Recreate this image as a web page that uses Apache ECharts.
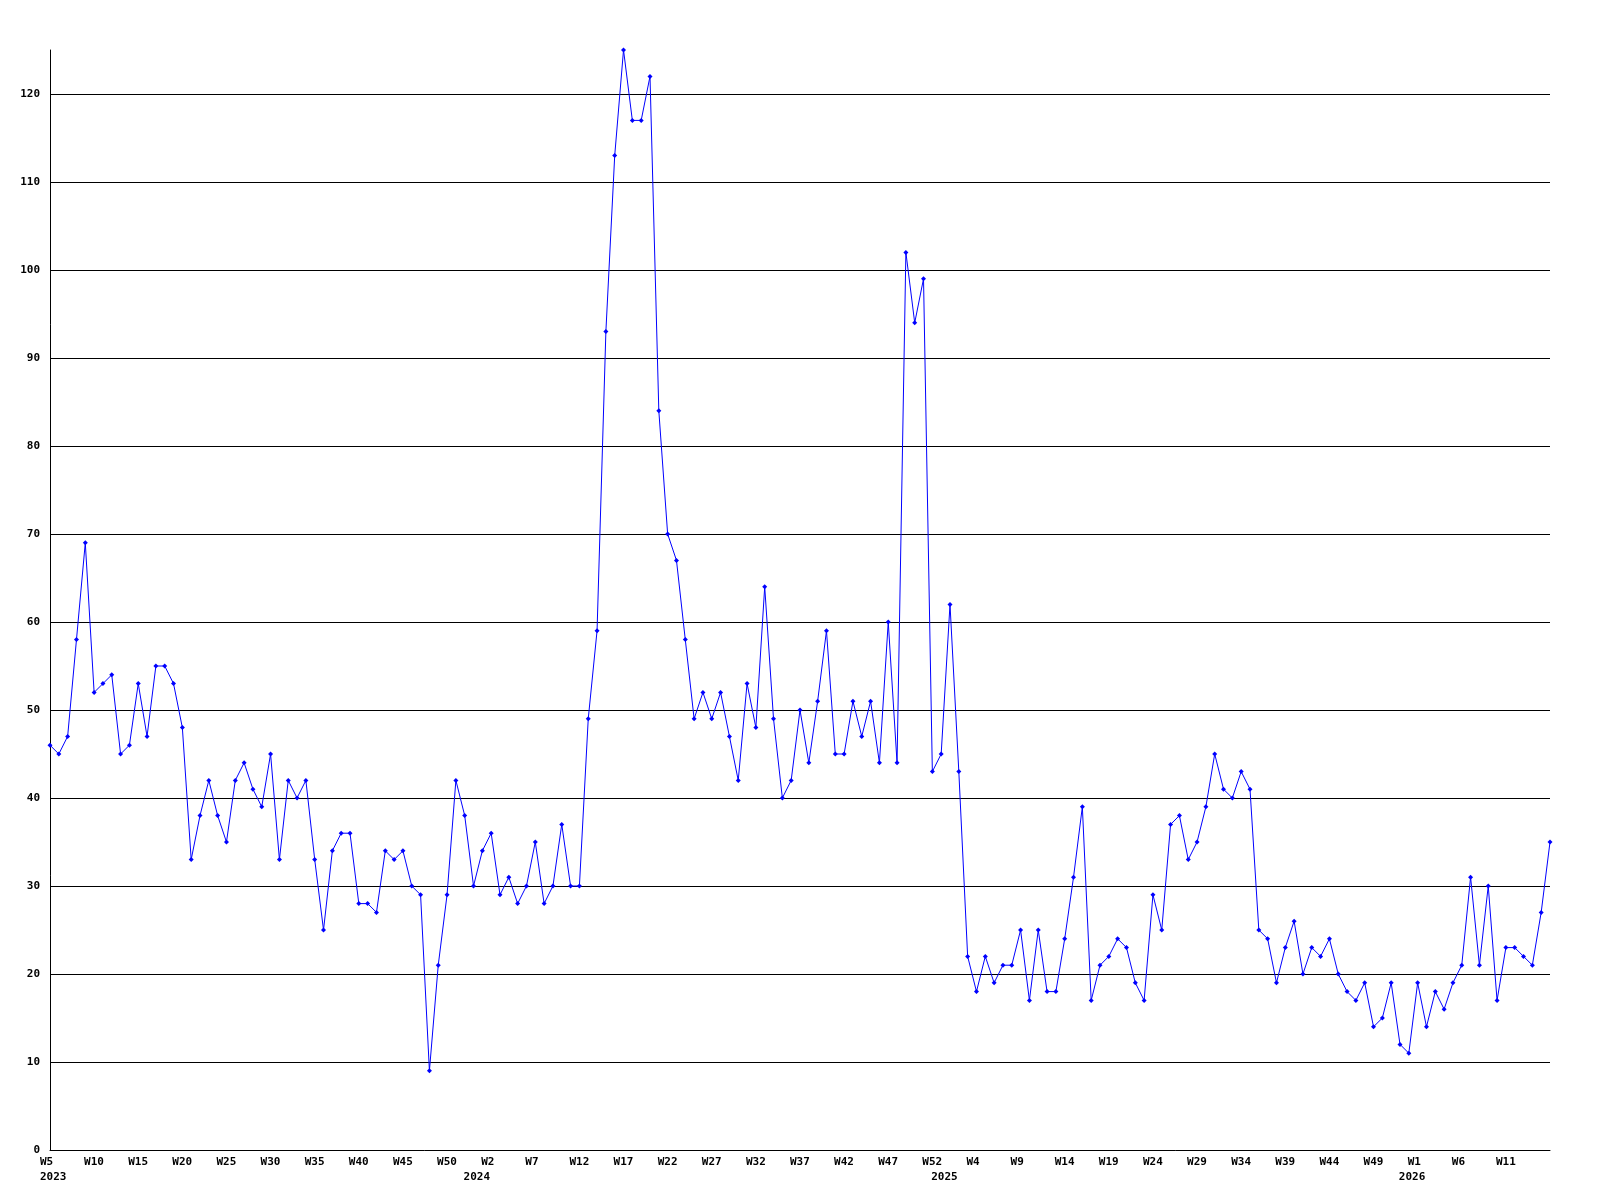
<!DOCTYPE html>
<html>
<head>
<meta charset="utf-8">
<script src="https://cdn.jsdelivr.net/npm/echarts@6/dist/echarts.min.js"></script>
<style>
  html, body { margin: 0; padding: 0; background: #ffffff; }
  #chart { width: 1600px; height: 1200px; }
</style>
</head>
<body>
<div id="chart"></div>
<script>
// Weekly values, 2023 W5 onwards (one per week)
const values = [
  46, 45, 47, 58, 69, 52, 53, 54, 45, 46, 53, 47, 55, 55, 53, 48,
  33, 38, 42, 38, 35, 42, 44, 41, 39, 45, 33, 42, 40, 42, 33, 25,
  34, 36, 36, 28, 28, 27, 34, 33, 34, 30, 29, 9, 21, 29, 42, 38,
  30, 34, 36, 29, 31, 28, 30, 35, 28, 30, 37, 30, 30, 49,
  59, 93, 113, 125, 117, 117, 122, 84, 70, 67, 58, 49,
  52, 49, 52, 47, 42, 53, 48, 64, 49, 40, 42, 50, 44, 51, 59, 45, 45, 51, 47, 51, 44, 60, 44,
  102, 94, 99, 43, 45, 62, 43,
  22, 18, 22, 19, 21, 21, 25, 17, 25, 18, 18, 24, 31, 39, 17, 21, 22, 24, 23, 19,
  17, 29, 25, 37, 38, 33, 35, 39, 45, 41, 40,
  43, 41, 25, 24, 19, 23, 26, 20, 23, 22, 24, 20, 18, 17, 19, 14, 15, 19, 12, 11,
  19, 14, 18, 16, 19, 21, 31, 21, 30, 17, 23, 23, 22, 21, 27, 35
];

// Week tick labels, one every 5 weeks starting with the first week
const tickLabels = [
  'W5', 'W10', 'W15', 'W20', 'W25', 'W30', 'W35', 'W40', 'W45', 'W50',
  'W2', 'W7', 'W12', 'W17', 'W22', 'W27', 'W32', 'W37', 'W42', 'W47',
  'W52', 'W4', 'W9', 'W14', 'W19', 'W24', 'W29', 'W34', 'W39', 'W44',
  'W49', 'W1', 'W6', 'W11'
];
// Year labels and the week index at which each year begins
const yearLabels = ['2023', '2024', '2025', '2026'];
const yearStartWeek = [0, 48, 101, 154];

const tickStep = 5;
const yTickStep = 10;
const yMax = 125;

const seriesData = values.map((v, i) => [i, v]);

const chart = echarts.init(document.getElementById('chart'), null, { renderer: 'canvas' });
const font = 'DejaVu Sans Mono';
const labelRich = {
  t: { width: 20, align: 'left', fontFamily: font, fontWeight: 'bold', fontSize: 11, color: '#000000' }
};

chart.setOption({
  animation: false,
  backgroundColor: '#ffffff',
  grid: { left: 50, right: 50, top: 50, bottom: 50, containLabel: false },
  xAxis: [{
    type: 'value',
    min: 0,
    max: values.length - 1,
    interval: tickStep,
    axisLine: { show: true, lineStyle: { color: '#000000', width: 1 } },
    axisTick: { show: false },
    splitLine: { show: false },
    axisLabel: {
      show: true,
      margin: 7,
      color: '#000000',
      fontFamily: font,
      fontWeight: 'bold',
      fontSize: 11,
      showMinLabel: true,
      showMaxLabel: true,
      hideOverlap: false,
      rich: labelRich,
      formatter: function (v) {
        const k = Math.round(v / tickStep);
        if (k < 0 || k >= tickLabels.length) return '';
        return '{t|' + tickLabels[k] + '}';
      }
    }
  }, {
    type: 'value',
    position: 'bottom',
    min: 0,
    max: values.length - 1,
    axisLine: { show: false },
    axisTick: { show: false },
    splitLine: { show: false },
    axisLabel: {
      show: true,
      margin: 22,
      color: '#000000',
      fontFamily: font,
      fontWeight: 'bold',
      fontSize: 11,
      hideOverlap: false,
      customValues: yearStartWeek,
      rich: labelRich,
      formatter: function (v) {
        const k = yearStartWeek.indexOf(Math.round(v));
        return k >= 0 ? '{t|' + yearLabels[k] + '}' : '';
      }
    }
  }],
  yAxis: {
    type: 'value',
    min: 0,
    max: yMax,
    interval: yTickStep,
    axisLine: { show: true, lineStyle: { color: '#000000', width: 1 } },
    axisTick: { show: false },
    splitLine: { show: true, showMinLine: false, showMaxLine: false, lineStyle: { color: '#000000', width: 1 } },
    axisLabel: {
      margin: 10,
      color: '#000000',
      fontFamily: font,
      fontWeight: 'bold',
      fontSize: 11,
      formatter: function (v) { return v % yTickStep === 0 ? String(v) : ''; }
    }
  },
  series: [{
    type: 'line',
    xAxisIndex: 0,
    data: seriesData,
    symbol: 'diamond',
    symbolSize: 5,
    showAllSymbol: true,
    lineStyle: { color: '#0000ff', width: 1 },
    itemStyle: { color: '#0000ff' },
    emphasis: { disabled: true }
  }]
});
</script>
</body>
</html>
